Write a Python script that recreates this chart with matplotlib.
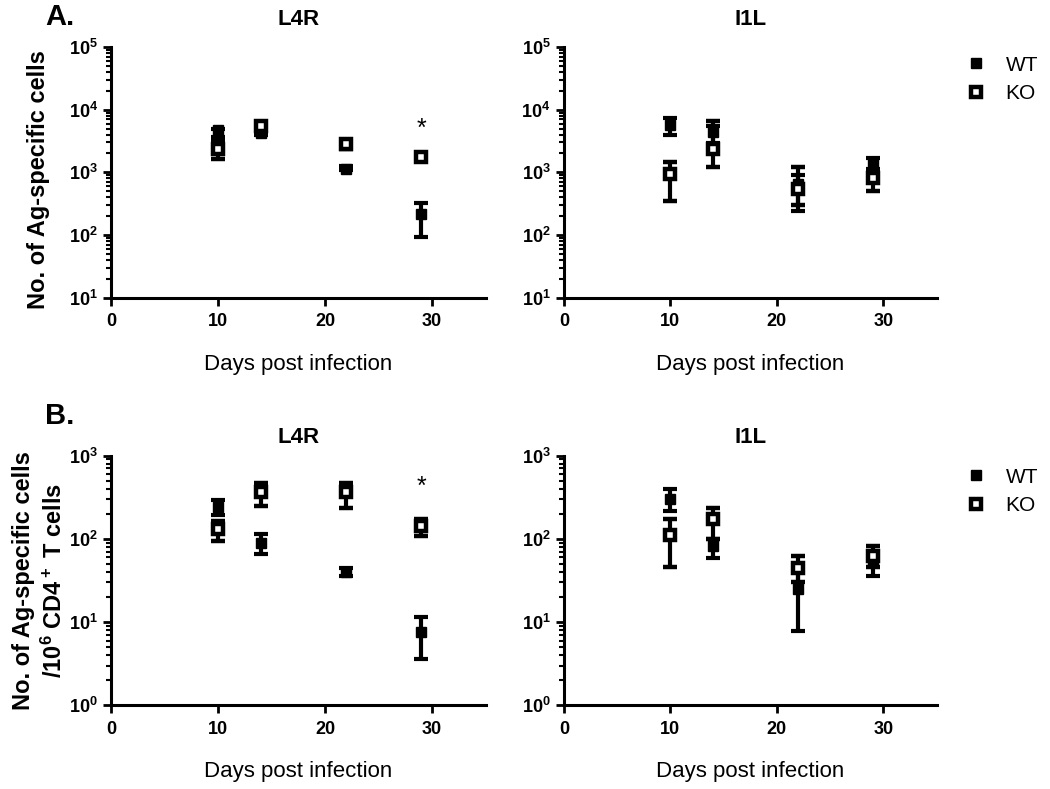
import numpy as np
import matplotlib
matplotlib.use('Agg')
import matplotlib.pyplot as plt
from matplotlib.lines import Line2D
from matplotlib.ticker import LogLocator, FuncFormatter, NullFormatter

plt.rcParams['font.family'] = ['Liberation Sans', 'DejaVu Sans']
plt.rcParams['mathtext.default'] = 'regular'

days = [10, 14, 22, 29]

# panel A: number of Ag-specific cells (mean, lower bar end, upper bar end)
a_l4r_wt = [4700, 4300, 1150, 215]
a_l4r_wt_lo = [3700, 4000, 1100, 92]
a_l4r_wt_hi = [5000, 4600, 1250, 320]
a_l4r_ko = [2400, 5500, 2800, 1730]
a_l4r_ko_lo = [1650, 4900, 2400, 1500]
a_l4r_ko_hi = [3200, 6100, 3300, 2000]

a_i1l_wt = [5600, 4400, 660, 1400]
a_i1l_wt_lo = [4000, 2900, 240, 1150]
a_i1l_wt_hi = [7300, 5500, 900, 1700]
a_i1l_ko = [930, 2400, 550, 800]
a_i1l_ko_lo = [350, 1200, 300, 500]
a_i1l_ko_hi = [1450, 6600, 1200, 1000]

# panel B: per 10^6 CD4+ T cells
b_l4r_wt = [240, 90, 40, 7.6]
b_l4r_wt_lo = [195, 65, 36, 3.6]
b_l4r_wt_hi = [295, 115, 44, 11.5]
b_l4r_ko = [130, 370, 370, 142]
b_l4r_ko_lo = [93, 250, 237, 107]
b_l4r_ko_hi = [162, 473, 473, 174]

b_i1l_wt = [300, 81, 25, 56]
b_i1l_wt_lo = [213, 59, 7.8, 36]
b_i1l_wt_hi = [398, 100, 40, 70]
b_i1l_ko = [110, 172, 45, 62]
b_i1l_ko_lo = [46, 100, 30, 46]
b_i1l_ko_hi = [172, 233, 62, 81]

wt_style = dict(marker='s', color='black', ms=7, linestyle='none')
ko_style = dict(marker='s', color='black', mfc='white', mec='black',
                mew=3.2, ms=7, linestyle='none')


def panel(ax, title, wt, wt_lo, wt_hi, ko, ko_lo, ko_hi, ylim, tpad, star=None):
    wt = np.array(wt); ko = np.array(ko)
    ax.errorbar(days, wt, yerr=[wt - np.array(wt_lo), np.array(wt_hi) - wt],
                elinewidth=3, capsize=5, capthick=3, zorder=3, **wt_style)
    ax.errorbar(days, ko, yerr=[ko - np.array(ko_lo), np.array(ko_hi) - ko],
                elinewidth=3, capsize=5, capthick=3, zorder=4, **ko_style)
    ax.set_yscale('log')
    ax.set_ylim(ylim)
    ax.set_xlim(0, 35)
    ax.set_xticks([0, 10, 20, 30])
    ax.yaxis.set_major_locator(LogLocator(base=10))
    ax.yaxis.set_minor_locator(LogLocator(base=10, subs=np.arange(2, 10)))
    ax.yaxis.set_minor_formatter(NullFormatter())
    ax.yaxis.set_major_formatter(FuncFormatter(
        lambda v, p: '10$^{%d}$' % round(np.log10(v))))
    for s in ['top', 'right']:
        ax.spines[s].set_visible(False)
    for s in ['left', 'bottom']:
        ax.spines[s].set_linewidth(2.2)
    ax.tick_params(axis='both', which='major', width=2, length=6, labelsize=13)
    ax.tick_params(axis='x', pad=5)
    ax.tick_params(axis='y', which='minor', width=1.5, length=3.5)
    for t in ax.get_xticklabels() + ax.get_yticklabels():
        t.set_fontweight('bold')
    ax.set_title(title, fontsize=16, fontweight='bold', pad=tpad)
    ax.set_xlabel('Days post infection', fontsize=16, labelpad=17)
    if star is not None:
        ax.text(29, star, '*', fontsize=18, ha='center', va='center')


fig = plt.figure(figsize=(10.5, 7.89), dpi=100)
ax1 = fig.add_axes([0.1057, 0.6227, 0.3567, 0.3177])
ax2 = fig.add_axes([0.537, 0.6227, 0.355, 0.3177])
ax3 = fig.add_axes([0.1057, 0.1061, 0.3567, 0.3165])
ax4 = fig.add_axes([0.537, 0.1061, 0.355, 0.3165])

panel(ax1, 'L4R', a_l4r_wt, a_l4r_wt_lo, a_l4r_wt_hi,
      a_l4r_ko, a_l4r_ko_lo, a_l4r_ko_hi, (10, 1e5), 16, star=5000)
panel(ax2, 'I1L', a_i1l_wt, a_i1l_wt_lo, a_i1l_wt_hi,
      a_i1l_ko, a_i1l_ko_lo, a_i1l_ko_hi, (10, 1e5), 16)
panel(ax3, 'L4R', b_l4r_wt, b_l4r_wt_lo, b_l4r_wt_hi,
      b_l4r_ko, b_l4r_ko_lo, b_l4r_ko_hi, (1, 1e3), 9, star=420)
panel(ax4, 'I1L', b_i1l_wt, b_i1l_wt_lo, b_i1l_wt_hi,
      b_i1l_ko, b_i1l_ko_lo, b_i1l_ko_hi, (1, 1e3), 9)

ax1.set_ylabel('No. of Ag-specific cells', fontsize=17, fontweight='bold')
ax1.yaxis.set_label_coords(-0.163, 0.47)
ax3.set_ylabel('No. of Ag-specific cells\n/10$^6$ CD4$^+$ T cells',
               fontsize=17, fontweight='bold', linespacing=1.35)
ax3.yaxis.set_label_coords(-0.118, 0.5)

handles = [Line2D([], [], **wt_style), Line2D([], [], **ko_style)]
for y in [0.94, 0.418]:
    fig.legend(handles, ['WT', 'KO'], loc='upper left', bbox_to_anchor=(0.912, y),
               frameon=False, fontsize=15, handlelength=1.0, handletextpad=0.9,
               labelspacing=0.45, borderaxespad=0)

fig.text(0.043, 0.978, 'A.', fontsize=21, fontweight='bold', va='center')
fig.text(0.043, 0.473, 'B.', fontsize=21, fontweight='bold', va='center')

plt.savefig('out.png', dpi=100)
